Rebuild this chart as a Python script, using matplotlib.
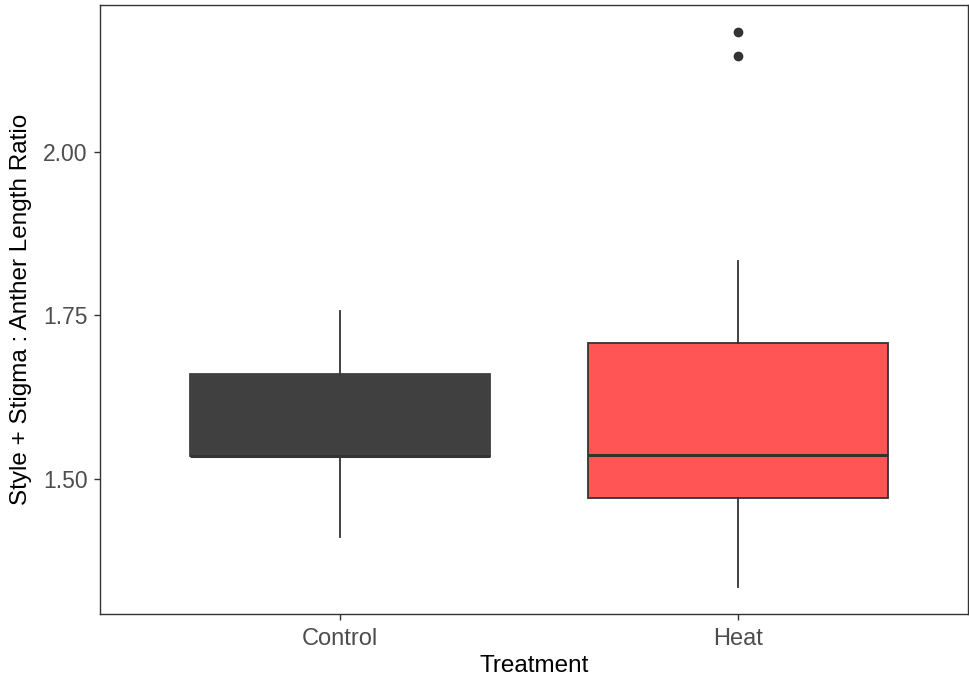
import matplotlib
matplotlib.use('Agg')
import matplotlib.pyplot as plt

# Box statistics
groups = ['Control', 'Heat']
q1 = [1.535, 1.471]
med = [1.535, 1.537]
q3 = [1.661, 1.708]
whislo = [1.411, 1.335]
whishi = [1.757, 1.833]
fliers = [[], [2.147, 2.183]]
fills = ['#404040', '#FF5555']

plt.rcParams['font.family'] = ['Liberation Sans', 'DejaVu Sans']

stats = []
for i in range(len(groups)):
    stats.append({'label': groups[i], 'q1': q1[i], 'med': med[i], 'q3': q3[i],
                  'whislo': whislo[i], 'whishi': whishi[i], 'fliers': fliers[i]})

fig = plt.figure(figsize=(9.69, 6.81), dpi=100)
ax = fig.add_axes([0.1032, 0.0984, 0.8958, 0.8943])

bp = ax.bxp(stats, positions=[1, 2], widths=0.754, patch_artist=True, showcaps=False,
            boxprops=dict(edgecolor='#333333', linewidth=1.3),
            medianprops=dict(color='#333333', linewidth=2.2),
            whiskerprops=dict(color='#333333', linewidth=1.3),
            flierprops=dict(marker='o', markerfacecolor='#333333', markeredgecolor='#333333',
                            markersize=6))
for patch, c in zip(bp['boxes'], fills):
    patch.set_facecolor(c)
    if c == '#404040':
        patch.set_edgecolor(c)

ax.set_xlim(0.397, 2.578)
ax.set_ylim(1.2936, 2.2248)
ax.set_yticks([1.50, 1.75, 2.00])
ax.set_yticklabels(['1.50', '1.75', '2.00'])
ax.set_xticks([1, 2])
ax.set_xticklabels(groups)
ax.tick_params(axis='x', labelsize=17, pad=6)
ax.tick_params(axis='y', labelsize=16.5, pad=5)
ax.tick_params(colors='#333333', labelcolor='#4D4D4D', length=4, width=1)
for s in ax.spines.values():
    s.set_color('#333333')
    s.set_linewidth(1)

ax.set_xlabel('Treatment', fontsize=17.5, color='black', labelpad=4)
ax.set_ylabel('Style + Stigma : Anther Length Ratio', fontsize=17.5, color='black', labelpad=8)

fig.savefig('out.png', dpi=100)
